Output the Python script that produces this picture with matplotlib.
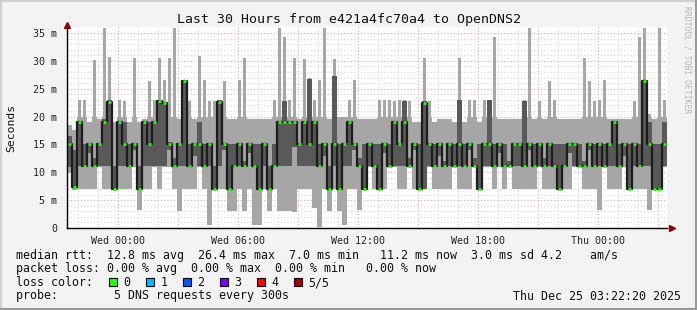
import numpy as np
import matplotlib.pyplot as plt
from matplotlib.patches import Rectangle
from matplotlib.lines import Line2D

W, H = 697, 310

# 15 minute bins, hours relative to Wed 00:00
t_start = -2.565
step_h = 0.25

# smoke: min, 2nd, median, 4th, max ping per bin (ms)
ping_min = [9.8, 6.8, 7, 7, 7, 7, 11, 7, 7, 6.8,
            7, 7, 7, 11, 3.2, 7, 7, 11, 7, 11,
            11, 7, 3.0, 7, 7, 7, 11, 7, 0.5, 7,
            7, 7, 3.1, 3.1, 7, 3.1, 7, 0.6, 0.6, 7,
            3.1, 7, 3.1, 3.0, 3.0, 2.9, 7, 7, 7, 3.5,
            0.2, 7, 3.0, 7, 3.0, 0.5, 7, 7, 3.3, 7,
            11, 7, 7, 7, 11, 11, 7, 7, 11, 7,
            7, 7, 11, 7, 7, 7, 7, 11, 7, 7,
            7, 11, 7, 11, 11, 7, 11, 7, 11, 7,
            7, 7, 7, 7, 11, 7, 7, 7, 7, 7,
            7, 11, 11, 7, 7, 7, 3.3, 11, 7, 7,
            7, 11, 7, 7, 7, 7, 3.2, 7, 7, 11]
ping_q1 = [11.0, 7.2, 11.2, 11.2, 13.5, 11.2, 11.2, 11.2, 11.2, 7.0,
           11.2, 11.2, 11.2, 14.0, 7.0, 11.2, 11.2, 11.2, 11.2, 11.2,
           14.0, 11.2, 11.2, 11.2, 11.2, 13.0, 11.2, 11.2, 11.2, 7.0,
           11.2, 14.0, 7.0, 11.2, 11.2, 11.2, 13.5, 11.2, 7.0, 11.2,
           7.0, 11.2, 11.2, 11.2, 11.2, 14.5, 11.2, 11.2, 11.2, 11.2,
           11.2, 13.0, 7.0, 11.2, 7.0, 11.2, 11.2, 14.0, 11.2, 7.0,
           11.2, 11.2, 7.0, 13.5, 11.2, 11.2, 11.2, 11.2, 11.2, 14.0,
           7.0, 7.0, 11.2, 11.2, 13.0, 11.2, 11.2, 11.2, 11.2, 11.2,
           14.0, 11.2, 7.0, 11.2, 11.2, 11.2, 13.5, 11.2, 11.2, 11.2,
           11.2, 11.2, 14.0, 11.2, 11.2, 11.2, 11.2, 11.2, 7.0, 11.2,
           13.5, 11.2, 11.2, 11.2, 14.0, 11.2, 11.2, 11.2, 11.2, 11.2,
           11.2, 13.0, 7.0, 11.2, 11.2, 11.2, 11.2, 7.0, 7.0, 11.2]
ping_med = [15, 7.4, 19, 11.2, 15, 11.2, 15, 19, 22.6, 7.0,
            19, 15, 11.2, 15, 7.0, 19, 15, 19, 22.8, 22.4,
            15, 11.2, 15, 26.4, 11.2, 15, 15, 11.2, 15, 7.0,
            22.6, 15, 7.0, 11.2, 15, 11.2, 15, 11.2, 7.0, 15,
            7.0, 11.2, 19, 19, 19, 19, 15, 19, 15, 19,
            11.2, 15, 7.0, 15, 7.0, 15, 19, 15, 11.2, 7.0,
            15, 11.2, 7.0, 15, 11.2, 19, 15, 19, 11.2, 15,
            7.0, 22.4, 15, 11.2, 15, 11.2, 15, 11.2, 15, 11.2,
            15, 11.2, 7.0, 15, 15, 11.2, 15, 11.2, 11.2, 15,
            15, 11.2, 15, 11.2, 15, 11.2, 15, 11.2, 7.0, 11.2,
            15, 15, 11.2, 11.2, 15, 11.2, 15, 11.2, 15, 19,
            11.2, 15, 7.0, 15, 11.2, 26.4, 15, 7.0, 7.0, 15]
ping_q3 = [16.5, 14, 19.2, 15, 15.2, 12.5, 15.2, 19.5, 23, 11.2,
           19.2, 19, 15, 15.2, 11.2, 19.2, 19, 19.2, 23, 22.6,
           15.5, 12.5, 15.2, 26.6, 15, 15.2, 19, 15, 15.2, 11.2,
           23, 15.2, 15, 15, 15.2, 12.0, 15.2, 15, 15, 15.2,
           11.2, 15, 19.2, 22.8, 19.2, 19.2, 15.2, 19.2, 26.7, 19.2,
           15, 15.2, 11.2, 27.3, 15, 15.2, 19.2, 15.2, 12.5, 15,
           15.2, 15, 15, 15.2, 15, 19.2, 15.2, 22.8, 12.5, 15.2,
           15, 22.8, 15.2, 15, 15.2, 12.0, 15.2, 15, 23, 15,
           15.2, 12.5, 15, 15.2, 23, 15, 15.2, 15, 12.0, 15.2,
           15.2, 22.8, 15.2, 15, 15.2, 12.5, 15.2, 15, 15, 15,
           15.2, 15.2, 15, 12.0, 15.2, 15, 15.2, 15, 15.2, 19.2,
           15, 15.2, 15, 15.2, 15, 26.6, 19, 15, 15, 19]
ping_max = [18.5, 17.5, 23, 23, 19, 30.2, 19.5, 35.9, 30.6, 19,
            23, 22.8, 19, 30.5, 19, 19.5, 26.3, 23, 30.5, 26.5,
            30.5, 35.9, 19.5, 26.6, 22.8, 19.5, 30.8, 26.5, 22.8, 22.8,
            23, 26.3, 19.5, 19.5, 26.5, 30.5, 19.5, 19.5, 19.5, 19.5,
            19.5, 23, 35.9, 34.3, 23, 30.5, 19.5, 30.4, 26.9, 23,
            26.5, 35.9, 19.5, 30.3, 20, 20, 23, 26.6, 19.5, 19.5,
            19.5, 19.5, 23, 23, 23, 22.8, 23, 23, 22.8, 19,
            19, 30.5, 22.8, 19, 19.5, 19.5, 19.5, 19, 30.5, 19,
            23, 23, 19, 23, 23, 34.3, 19.5, 19.5, 19.5, 19.5,
            19.5, 23, 35.9, 19.5, 22.8, 19.5, 26.3, 23, 19.5, 19.5,
            19.5, 19.5, 19.5, 30.5, 26.3, 22.8, 23, 26.5, 19.5, 19.5,
            19.5, 19.5, 19.5, 22.8, 34.3, 35.9, 20.5, 19.5, 35.9, 23]

tick_hours = [0, 6, 12, 18, 24]
tick_names = ['Wed 00:00', 'Wed 06:00', 'Wed 12:00', 'Wed 18:00', 'Thu 00:00']
y_ticks = [0, 5, 10, 15, 20, 25, 30, 35]

loss_names = ['0', '1', '2', '3', '4', '5/5']
loss_colors = ['#26ff00', '#00b8ff', '#0059ff', '#7e00ff', '#ff0000', '#a10000']

mono = 'DejaVu Sans Mono'
bg = '#f3f3f3'
light = '#a6a6a6'


def fx(px):
    return px / W


def fy(py):
    return 1 - py / H


fig = plt.figure(figsize=(W / 100, H / 100), dpi=100, facecolor=bg)
ax = fig.add_axes([fx(67), fy(228), fx(600), (228 - 27.4) / H])
ax.set_facecolor('white')

n = len(ping_med)
edges = t_start + np.arange(n + 1) * step_h
centers = edges[:-1] + step_h / 2


def ext(a):
    return np.append(a, a[-1])


# smoke body full width, single tall pings as thin spikes
body_top = np.minimum(ping_max, 20.0)
ax.fill_between(edges, ext(ping_min), ext(body_top), step='post',
                color=light, lw=0, zorder=2)
spk = np.array(ping_max) > 20.0
ax.bar(centers[spk], (np.array(ping_max) - 19.9)[spk], bottom=19.9,
       width=step_h * 0.45, color=light, lw=0, zorder=2)
ax.fill_between(edges, ext(ping_q1), ext(ping_q3), step='post',
                color='#595959', lw=0, zorder=3)
ax.step(edges, ext(ping_med), where='post', color='#1c1c1c', lw=1.6, zorder=4)
ax.hlines(ping_med, edges[:-1] + 0.06, edges[1:] - 0.03, colors='#26ff00',
          lw=2.0, zorder=5)

ax.set_xlim(t_start, t_start + 30)
ax.set_ylim(0, 36)

# grid
ax.set_xticks(np.arange(0, 28, 3))
ax.set_xticklabels([tick_names[tick_hours.index(h)] if h in tick_hours else ''
                    for h in range(0, 28, 3)])
ax.set_xticks(np.arange(-2, 28, 1), minor=True)
ax.set_yticks(y_ticks)
ax.set_yticklabels(['0'] + ['%d m' % v for v in y_ticks[1:]])
ax.set_yticks(np.arange(1, 36, 1), minor=True)
ax.grid(which='minor', color='#d4d4d4', linestyle=(0, (1, 2)), lw=0.8)
ax.grid(which='major', color='#eea0a0', linestyle=(0, (1, 2)), lw=0.8)
ax.set_axisbelow(True)
ax.tick_params(which='both', length=0, labelsize=7.2, colors='#222222')
ax.tick_params(axis='x', pad=6)
ax.tick_params(axis='y', pad=7)
for lab in ax.get_xticklabels() + ax.get_yticklabels():
    lab.set_fontfamily(mono)

for s in ['top', 'right']:
    ax.spines[s].set_visible(False)
for s in ['left', 'bottom']:
    ax.spines[s].set_color('black')
    ax.spines[s].set_linewidth(1.0)
    ax.spines[s].set_zorder(6)

# axis arrows
ax.plot([1.008], [0], marker='>', color='#8b0000', ms=5, clip_on=False,
        transform=ax.transAxes, zorder=7)
ax.plot([0], [1.01], marker='^', color='#8b0000', ms=5, clip_on=False,
        transform=ax.transAxes, zorder=7)

fig.text(fx(349), fy(19.5), 'Last 30 Hours from e421a4fc70a4 to OpenDNS2',
         ha='center', va='center', family=mono, fontsize=9.5, color='#111111')
fig.text(fx(11), fy(128), 'Seconds', rotation=90, ha='center', va='center',
         family=mono, fontsize=8.2, color='#111111')
fig.text(fx(687), fy(60), 'RRDTOOL / TOBI OETIKER', rotation=-90,
         ha='center', va='center', family=mono, fontsize=5.8, color='#b4b4b4')

leg = dict(family=mono, fontsize=8.4, color='#111111', ha='left', va='center')
fig.text(fx(16), fy(255),
         'median rtt:  12.8 ms avg  26.4 ms max  7.0 ms min   11.2 ms now  3.0 ms sd 4.2    am/s',
         **leg)
fig.text(fx(16), fy(268.5),
         'packet loss: 0.00 % avg  0.00 % max  0.00 % min   0.00 % now', **leg)
fig.text(fx(16), fy(282.5), 'loss color:', **leg)
fig.text(fx(16), fy(296), 'probe:        5 DNS requests every 300s', **leg)
fig.text(fx(681), fy(296), 'Thu Dec 25 03:22:20 2025', family=mono,
         fontsize=8.4, color='#111111', ha='right', va='center')

box_x = [108.5, 145.5, 182.5, 219.5, 256.5, 293.5]
for bx, name, col in zip(box_x, loss_names, loss_colors):
    fig.add_artist(Rectangle((fx(bx), fy(285.5)), fx(8), 8 / H,
                             transform=fig.transFigure, facecolor=col,
                             edgecolor='black', lw=0.8))
    fig.text(fx(bx + 15), fy(282.5), name, **leg)

# frame
fig.add_artist(Line2D([0, 1], [fy(0.5), fy(0.5)], color='#d0d0d0', lw=1.5,
                      transform=fig.transFigure))
fig.add_artist(Line2D([fx(0.5), fx(0.5)], [0, 1], color='#d0d0d0', lw=1.5,
                      transform=fig.transFigure))
fig.add_artist(Line2D([0, 1], [fy(309), fy(309)], color='#9a9a9a', lw=1.5,
                      transform=fig.transFigure))
fig.add_artist(Line2D([fx(696), fx(696)], [0, 1], color='#9a9a9a', lw=1.5,
                      transform=fig.transFigure))

fig.savefig('out.png', dpi=100, facecolor=bg)
